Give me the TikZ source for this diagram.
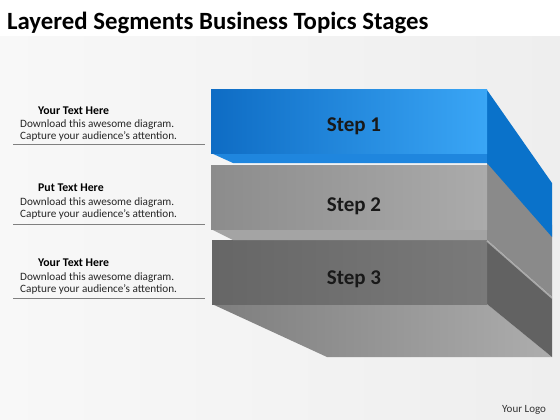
\documentclass[tikz,border=0pt]{standalone}
\usepackage{fontspec}
\setmainfont{Carlito}
\definecolor{rule}{HTML}{808080}
\definecolor{bluel}{HTML}{0E6CC4}
\definecolor{bluer}{HTML}{3AA6F6}
\definecolor{blueside}{HTML}{0A72CA}
\definecolor{bluebot}{HTML}{1F86DE}
\definecolor{grayl}{HTML}{8C8C8C}
\definecolor{grayr}{HTML}{ABABAB}
\definecolor{grayside}{HTML}{8A8A8A}
\definecolor{graybot}{HTML}{A4A4A4}
\definecolor{darkl}{HTML}{666666}
\definecolor{darkr}{HTML}{7A7A7A}
\definecolor{darkside}{HTML}{626262}
\definecolor{darkbotl}{HTML}{7E7E7E}
\definecolor{darkbotr}{HTML}{ADADAD}
\definecolor{bgl}{HTML}{F8F8F8}
\definecolor{bgr}{HTML}{EEEEEE}
\tikzset{
  heading/.style={anchor=base west, inner sep=0pt, font=\fontsize{11.8}{13}\selectfont\bfseries, text=black},
  body/.style={anchor=base west, inner sep=0pt, font=\fontsize{11.2}{13}\selectfont, text=black!85},
  steplabel/.style={anchor=base, inner sep=0pt, font=\fontsize{21}{24}\selectfont\bfseries, text=black!90},
  leftrule/.style={draw=rule, line width=1pt},
}
\begin{document}
\begin{tikzpicture}[x=1pt,y=-1pt]
\useasboundingbox (0,0) rectangle (560,420);
% background
\fill[white] (0,0) rectangle (560,420);
\shade[left color=bgl, right color=bgr] (0,37) rectangle (560,420);
% title
\node[anchor=base west, inner sep=0pt, font=\fontsize{24.8}{28}\selectfont\bfseries] (title) at (7,30) {Layered Segments Business Topics Stages};
% ---- step 3 (back) ----
\shade[left color=darkbotl, right color=darkbotr] (212,304) -- (487,304) -- (552,357) -- (327,357) -- cycle;
\fill[darkside] (487,240) -- (552,297) -- (552,357) -- (487,304) -- cycle;
\shade[left color=darkl, right color=darkr] (212,240) rectangle (487,304);
% ---- step 2 ----
\fill[graybot] (211,229) -- (487,229) -- (487,240) -- (233,240) -- cycle;
\fill[grayside] (487,160) -- (552,225) -- (552,297) -- (487,240) -- cycle;
\draw[white, opacity=0.45, line width=1.5pt] (487,241) -- (552,298);
\shade[left color=grayl, right color=grayr] (211,165) rectangle (487,229);
% ---- step 1 (front, blue) ----
\fill[bluebot] (211,153) -- (487,153) -- (487,163) -- (233,163) -- cycle;
\fill[blueside] (487,90) -- (552,183) -- (552,237) -- (487,163) -- cycle;
\shade[left color=bluel, right color=bluer] (211,90) rectangle (487,153);
% step labels
\node[steplabel] (s1) at (354,131.5) {Step 1};
\node[steplabel] (s2) at (354,211) {Step 2};
\node[steplabel] (s3) at (354,284.5) {Step 3};
% left texts
\node[heading] (h1) at (38,114) {Your Text Here};
\node[body] (b1a) at (20,128) {Download this awesome diagram.};
\node[body] (b1b) at (20,139.5) {Capture your audience’s attention.};
\draw[leftrule] (13,144) -- (205,144);
\node[heading] (h2) at (38,191) {Put Text Here};
\node[body] (b2a) at (20,205.5) {Download this awesome diagram.};
\node[body] (b2b) at (20,217.5) {Capture your audience’s attention.};
\draw[leftrule] (13,224) -- (205,224);
\node[heading] (h3) at (38,266) {Your Text Here};
\node[body] (b3a) at (20,280) {Download this awesome diagram.};
\node[body] (b3b) at (20,292) {Capture your audience’s attention.};
\draw[leftrule] (13,298) -- (205,298);
% logo
\node[anchor=base west, inner sep=0pt, font=\fontsize{11}{13}\selectfont, text=black!80] (logo) at (502,412) {Your Logo};
\end{tikzpicture}
\end{document}
